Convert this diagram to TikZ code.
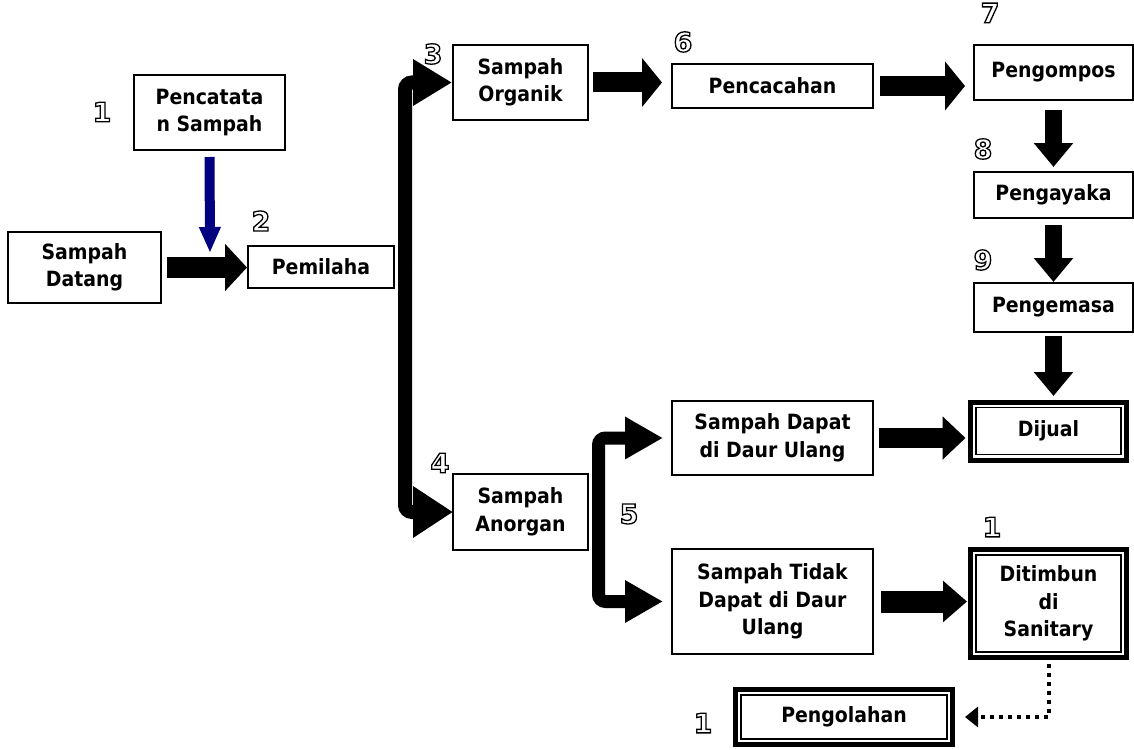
\documentclass[tikz,border=0pt]{standalone}
\usepackage{fontspec}
\setmainfont{DejaVu Sans Condensed}
\newfontfamily\digfont{DejaVu Sans}
\usetikzlibrary{arrows.meta,calc}
\definecolor{navyb}{RGB}{0,0,128}
\newcommand\lblfont{\bfseries\fontsize{21}{27.5}\selectfont}
\newcommand\numfont{\digfont\bfseries\fontsize{27}{27}\selectfont}
\newcommand\onum[1]{{\numfont\special{pdf:literal direct 1 Tr 1.3 w}#1\special{pdf:literal direct 0 Tr}}}
\tikzset{
  box/.style={draw, line width=1.6pt, fill=white, inner sep=0pt, outer sep=0pt, align=center, font=\lblfont},
  dbox/.style={draw, line width=5pt, fill=white, inner sep=0pt, outer sep=0pt, align=center, font=\lblfont},
  numlbl/.style={inner sep=0pt, outer sep=0pt},
  harrow/.style={line width=21pt, -{Triangle[length=22pt,width=46pt]}},
  varrow/.style={line width=17pt, -{Triangle[length=24pt,width=38pt]}},
  bracketA/.style={line width=14pt, rounded corners=7pt, -{Triangle[length=39pt,width=44pt]}},
  bracketB/.style={line width=13pt, rounded corners=7pt, -{Triangle[length=38pt,width=40pt]}},
  bluearrow/.style={navyb, line width=10pt, -{Triangle[length=26pt,width=20pt]}},
  dotline/.style={line width=4pt, dash pattern=on 4pt off 5pt, -{Triangle[length=13pt,width=20pt]}}
}
\begin{document}
\begin{tikzpicture}[x=1pt,y=-1pt]
\useasboundingbox (0,0) rectangle (1134,749);
% boxes
\node[box, minimum width=151pt, minimum height=75pt] (pen) at (209.5,112.5) {Pencatata\\n Sampah};
\node[box, minimum width=153pt, minimum height=71pt] (dat) at (84.5,267.5) {Sampah\\Datang};
\node[box, minimum width=146pt, minimum height=42pt] (pem) at (321,267) {Pemilaha};
\node[box, minimum width=135pt, minimum height=75pt] (org) at (520.5,82.5) {Sampah\\Organik};
\node[box, minimum width=135pt, minimum height=76pt] (ano) at (520.5,512) {Sampah\\Anorgan};
\node[box, minimum width=201pt, minimum height=44pt] (pcc) at (772.5,86) {Pencacahan};
\node[box, minimum width=159pt, minimum height=55pt] (pgp) at (1053.5,72.5) {Pengompos};
\node[box, minimum width=159pt, minimum height=46pt] (pgy) at (1053.5,195) {Pengayaka};
\node[box, minimum width=159pt, minimum height=49pt] (pgm) at (1053.5,307.5) {Pengemasa};
\node[box, minimum width=201pt, minimum height=74pt] (dap) at (772.5,438) {Sampah Dapat\\di Daur Ulang};
\node[box, minimum width=201pt, minimum height=105pt] (tdk) at (772.5,601.5) {Sampah Tidak\\Dapat di Daur\\Ulang};
\node[dbox, minimum width=156pt, minimum height=58pt] (dij) at (1048.5,431) {Dijual};
\node[dbox, minimum width=156pt, minimum height=108pt] (dit) at (1048.5,603.5) {Ditimbun\\di\\Sanitary};
\node[dbox, minimum width=217pt, minimum height=55pt] (pol) at (844,717) {Pengolahan};
\foreach \n in {dij,dit,pol}{
  \draw[line width=1.6pt] ($(\n.north west)+(5.5,5.5)$) rectangle ($(\n.south east)+(-5.5,-5.5)$);
}
% numbers
\node[numlbl] (k1) at (102,112) {\onum{1}};
\node[numlbl] (k2) at (261,221) {\onum{2}};
\node[numlbl] (k3) at (433,54) {\onum{3}};
\node[numlbl] (k6) at (683,42) {\onum{6}};
\node[numlbl] (k7) at (990,13) {\onum{7}};
\node[numlbl] (k8) at (983,149) {\onum{8}};
\node[numlbl] (k9) at (983,260) {\onum{9}};
\node[numlbl] (k4) at (440,463) {\onum{4}};
\node[numlbl] (k5) at (629,514) {\onum{5}};
\node[numlbl] (k10) at (992,527) {\onum{1}};
\node[numlbl] (k11) at (703,723) {\onum{1}};
% connectors
\coordinate (bt) at (210,253);
\draw[bluearrow, shorten <=7pt] (pen.south) -- (bt);
\draw[harrow, shorten <=6pt, shorten >=1pt] (dat.east) -- (dat.east -| pem.west);
\draw[harrow, line width=20pt, -{Triangle[length=20pt,width=48pt]}, shorten <=5pt, shorten >=10pt] (org.east) -- (org.east -| pcc.west);
\draw[harrow, line width=20pt, -{Triangle[length=20pt,width=48pt]}, shorten <=7pt, shorten >=9pt] (pcc.east) -- (pcc.east -| pgp.west);
\draw[varrow, shorten <=10pt, shorten >=5pt] (pgp.south) -- (pgy.north);
\draw[varrow, shorten <=7pt, shorten >=1pt] (pgy.south) -- (pgm.north);
\draw[varrow, shorten <=4pt, shorten >=6pt] (pgm.south) -- (pgm.south |- dij.north);
\draw[harrow, line width=20pt, -{Triangle[length=23pt,width=42pt]}, shorten <=6pt, shorten >=5pt] (dap.east) -- (dap.east -| dij.west);
\draw[harrow, line width=22pt, -{Triangle[length=24pt,width=40pt]}, shorten <=8pt, shorten >=3.5pt] (tdk.east) -- (tdk.east -| dit.west);
\coordinate (b1) at (405,267);
\draw[bracketA, shorten >=1pt] (b1) |- (org.west);
\draw[bracketA, -{Triangle[length=40pt,width=49pt]}] (b1) |- (ano.west);
\coordinate (b2) at (598.5,520);
\draw[bracketB, shorten >=9pt] (b2) |- (dap.west);
\draw[bracketB, shorten >=9pt] (b2) |- (tdk.west);
\draw[dotline, shorten <=6pt, shorten >=12.5pt] (dit.south) |- (pol.east);
\end{tikzpicture}
\end{document}
